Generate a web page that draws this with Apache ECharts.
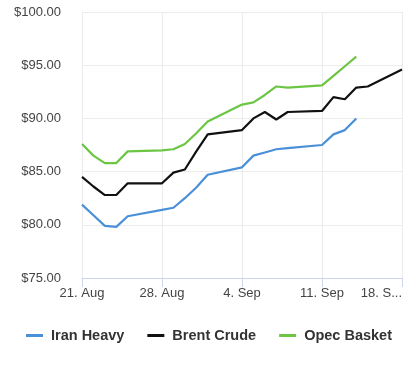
<!DOCTYPE html>
<html>
<head>
<meta charset="utf-8">
<script src="https://cdn.jsdelivr.net/npm/echarts@6/dist/echarts.min.js"></script>
<style>html,body{margin:0;padding:0;background:#fff;}#c{width:418px;height:369px;}</style>
</head>
<body>
<div id="c"></div>
<script>
var dates = ['2023-08-21','2023-08-22','2023-08-23','2023-08-24','2023-08-25',
  '2023-08-28','2023-08-29','2023-08-30','2023-08-31','2023-09-01',
  '2023-09-04','2023-09-05','2023-09-06','2023-09-07','2023-09-08',
  '2023-09-11','2023-09-12','2023-09-13','2023-09-14','2023-09-15','2023-09-18'];
var iranHeavy = [81.9,80.9,79.9,79.8,80.8, 81.4,81.6,82.5,83.5,84.7, 85.4,86.5,86.8,87.1,87.2, 87.5,88.5,88.9,90.0];
var brentCrude = [84.5,83.6,82.8,82.8,83.9, 83.9,84.9,85.2,86.9,88.5, 88.9,90.0,90.6,89.9,90.6, 90.7,92.0,91.8,92.9,93.0,94.6];
var opecBasket = [87.6,86.5,85.8,85.8,86.9, 87.0,87.1,87.6,88.6,89.7, 91.3,91.5,92.2,93.0,92.9, 93.1,94.0,94.9,95.8];
var tickLabels = ['21. Aug','28. Aug','4. Sep','11. Sep','18. S...'];

var DAY = 86400000;
var start = Date.parse(dates[0] + 'T00:00:00Z');
function toPts(vals) {
  return vals.map(function (v, i) {
    return [Math.round((Date.parse(dates[i] + 'T00:00:00Z') - start) / DAY), v];
  });
}

var chart = echarts.init(document.getElementById('c'), null, {renderer: 'canvas'});
var font = 'Liberation Sans, Arial, sans-serif';
chart.setOption({
  animation: false,
  backgroundColor: '#ffffff',
  grid: {left: 82, right: 16, top: 12, bottom: 91, containLabel: false, outerBoundsMode: 'none'},
  legend: {
    bottom: 21,
    left: 'center',
    itemWidth: 17,
    itemHeight: 3,
    itemGap: 23,
    icon: 'rect',
    textStyle: {fontFamily: font, fontSize: 14.5, fontWeight: 'bold', color: '#333', padding: [0, 0, 0, 3]},
    data: ['Iran Heavy', 'Brent Crude', 'Opec Basket']
  },
  xAxis: {
    type: 'value',
    min: 0, max: 28, interval: 7,
    axisLine: {show: true, lineStyle: {color: '#ccd6eb', width: 1}},
    axisTick: {show: true, length: 9, lineStyle: {color: '#ccd6eb'}},
    splitLine: {show: true, lineStyle: {color: '#ececec'}},
    axisLabel: {
      fontFamily: font, fontSize: 13, color: '#444', margin: 9,
      alignMaxLabel: 'right',
      formatter: function (v) { return tickLabels[Math.round(v / 7)] || ''; }
    }
  },
  yAxis: {
    type: 'value',
    min: 75, max: 100, interval: 5,
    axisLine: {show: false},
    axisTick: {show: false},
    splitLine: {show: true, lineStyle: {color: '#ececec'}},
    axisLabel: {
      fontFamily: font, fontSize: 13, color: '#444', margin: 21,
      formatter: function (v) { return '$' + v.toFixed(2); }
    }
  },
  series: [
    {name: 'Iran Heavy', type: 'line', data: toPts(iranHeavy), showSymbol: false, symbol: 'none',
      lineStyle: {color: '#4a90d9', width: 2.2}, itemStyle: {color: '#4a90d9'}},
    {name: 'Brent Crude', type: 'line', data: toPts(brentCrude), showSymbol: false, symbol: 'none',
      lineStyle: {color: '#111111', width: 2.2}, itemStyle: {color: '#111111'}},
    {name: 'Opec Basket', type: 'line', data: toPts(opecBasket), showSymbol: false, symbol: 'none',
      lineStyle: {color: '#6cc644', width: 2.2}, itemStyle: {color: '#6cc644'}}
  ]
});
</script>
</body>
</html>
